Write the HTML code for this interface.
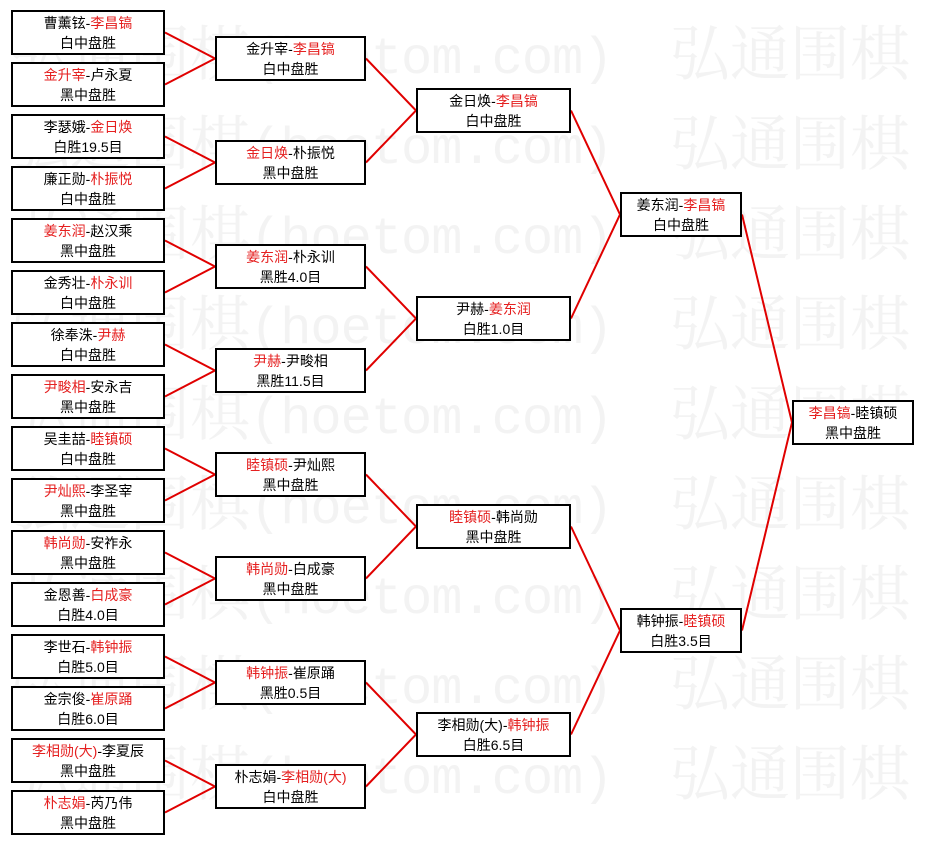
<!DOCTYPE html>
<html><head><meta charset="utf-8"><style>
body{margin:0;width:925px;height:845px;background:#fff;position:relative;overflow:hidden;font-family:"Liberation Sans","Noto Sans CJK SC",sans-serif;}
.wm{position:absolute;color:#f3f3f3;font-size:60px;line-height:60px;white-space:nowrap;font-family:"Liberation Mono","Noto Serif CJK SC",monospace;}
.wm span{position:absolute;top:0}
.wm span.h{font-size:52px;letter-spacing:-1px}
.b{position:absolute;height:40px;border:2px solid #000;background:#fff;text-align:center;font-size:14px;line-height:20px;padding-top:1px;box-sizing:content-box;color:#000;}
.r{color:#e52020}
svg{position:absolute;left:0;top:0}
</style></head><body>
<div class="wm" style="left:0;top:30px;width:925px;height:60px"><span style="right:675px">弘通围棋</span><span class="h" style="left:250px">(hoetom.com)</span><span style="left:670px">弘通围棋</span></div>
<div class="wm" style="left:0;top:120px;width:925px;height:60px"><span style="right:675px">弘通围棋</span><span class="h" style="left:250px">(hoetom.com)</span><span style="left:670px">弘通围棋</span></div>
<div class="wm" style="left:0;top:210px;width:925px;height:60px"><span style="right:675px">弘通围棋</span><span class="h" style="left:250px">(hoetom.com)</span><span style="left:670px">弘通围棋</span></div>
<div class="wm" style="left:0;top:300px;width:925px;height:60px"><span style="right:675px">弘通围棋</span><span class="h" style="left:250px">(hoetom.com)</span><span style="left:670px">弘通围棋</span></div>
<div class="wm" style="left:0;top:390px;width:925px;height:60px"><span style="right:675px">弘通围棋</span><span class="h" style="left:250px">(hoetom.com)</span><span style="left:670px">弘通围棋</span></div>
<div class="wm" style="left:0;top:480px;width:925px;height:60px"><span style="right:675px">弘通围棋</span><span class="h" style="left:250px">(hoetom.com)</span><span style="left:670px">弘通围棋</span></div>
<div class="wm" style="left:0;top:570px;width:925px;height:60px"><span style="right:675px">弘通围棋</span><span class="h" style="left:250px">(hoetom.com)</span><span style="left:670px">弘通围棋</span></div>
<div class="wm" style="left:0;top:660px;width:925px;height:60px"><span style="right:675px">弘通围棋</span><span class="h" style="left:250px">(hoetom.com)</span><span style="left:670px">弘通围棋</span></div>
<div class="wm" style="left:0;top:750px;width:925px;height:60px"><span style="right:675px">弘通围棋</span><span class="h" style="left:250px">(hoetom.com)</span><span style="left:670px">弘通围棋</span></div>
<svg width="925" height="845" fill="none" stroke="#e00000" stroke-width="2">
<polyline points="165,32.5 215,58.5 165,84.5"/>
<polyline points="165,136.5 215,162.5 165,188.5"/>
<polyline points="165,240.5 215,266.5 165,292.5"/>
<polyline points="165,344.5 215,370.5 165,396.5"/>
<polyline points="165,448.5 215,474.5 165,500.5"/>
<polyline points="165,552.5 215,578.5 165,604.5"/>
<polyline points="165,656.5 215,682.5 165,708.5"/>
<polyline points="165,760.5 215,786.5 165,812.5"/>
<polyline points="366,58.5 416,110.5 366,162.5"/>
<polyline points="366,266.5 416,318.5 366,370.5"/>
<polyline points="366,474.5 416,526.5 366,578.5"/>
<polyline points="366,682.5 416,734.5 366,786.5"/>
<polyline points="571,110.5 620,214.5 571,318.5"/>
<polyline points="571,526.5 620,630.5 571,734.5"/>
<polyline points="742,214.5 792,422.5 742,630.5"/>
</svg>
<div class="b" style="left:11px;top:10px;width:150px">曹薰铉-<span class="r">李昌镐</span><br>白中盘胜</div>
<div class="b" style="left:11px;top:62px;width:150px"><span class="r">金升宰</span>-卢永夏<br>黑中盘胜</div>
<div class="b" style="left:11px;top:114px;width:150px">李瑟娥-<span class="r">金日焕</span><br>白胜19.5目</div>
<div class="b" style="left:11px;top:166px;width:150px">廉正勋-<span class="r">朴振悦</span><br>白中盘胜</div>
<div class="b" style="left:11px;top:218px;width:150px"><span class="r">姜东润</span>-赵汉乘<br>黑中盘胜</div>
<div class="b" style="left:11px;top:270px;width:150px">金秀壮-<span class="r">朴永训</span><br>白中盘胜</div>
<div class="b" style="left:11px;top:322px;width:150px">徐奉洙-<span class="r">尹赫</span><br>白中盘胜</div>
<div class="b" style="left:11px;top:374px;width:150px"><span class="r">尹畯相</span>-安永吉<br>黑中盘胜</div>
<div class="b" style="left:11px;top:426px;width:150px">吴圭喆-<span class="r">睦镇硕</span><br>白中盘胜</div>
<div class="b" style="left:11px;top:478px;width:150px"><span class="r">尹灿熙</span>-李圣宰<br>黑中盘胜</div>
<div class="b" style="left:11px;top:530px;width:150px"><span class="r">韩尚勋</span>-安祚永<br>黑中盘胜</div>
<div class="b" style="left:11px;top:582px;width:150px">金恩善-<span class="r">白成豪</span><br>白胜4.0目</div>
<div class="b" style="left:11px;top:634px;width:150px">李世石-<span class="r">韩钟振</span><br>白胜5.0目</div>
<div class="b" style="left:11px;top:686px;width:150px">金宗俊-<span class="r">崔原踊</span><br>白胜6.0目</div>
<div class="b" style="left:11px;top:738px;width:150px"><span class="r">李相勋(大)</span>-李夏辰<br>黑中盘胜</div>
<div class="b" style="left:11px;top:790px;width:150px"><span class="r">朴志娟</span>-芮乃伟<br>黑中盘胜</div>

<div class="b" style="left:215px;top:36px;width:147px">金升宰-<span class="r">李昌镐</span><br>白中盘胜</div>
<div class="b" style="left:215px;top:140px;width:147px"><span class="r">金日焕</span>-朴振悦<br>黑中盘胜</div>
<div class="b" style="left:215px;top:244px;width:147px"><span class="r">姜东润</span>-朴永训<br>黑胜4.0目</div>
<div class="b" style="left:215px;top:348px;width:147px"><span class="r">尹赫</span>-尹畯相<br>黑胜11.5目</div>
<div class="b" style="left:215px;top:452px;width:147px"><span class="r">睦镇硕</span>-尹灿熙<br>黑中盘胜</div>
<div class="b" style="left:215px;top:556px;width:147px"><span class="r">韩尚勋</span>-白成豪<br>黑中盘胜</div>
<div class="b" style="left:215px;top:660px;width:147px"><span class="r">韩钟振</span>-崔原踊<br>黑胜0.5目</div>
<div class="b" style="left:215px;top:764px;width:147px">朴志娟-<span class="r">李相勋(大)</span><br>白中盘胜</div>

<div class="b" style="left:416px;top:88px;width:151px">金日焕-<span class="r">李昌镐</span><br>白中盘胜</div>
<div class="b" style="left:416px;top:296px;width:151px">尹赫-<span class="r">姜东润</span><br>白胜1.0目</div>
<div class="b" style="left:416px;top:504px;width:151px"><span class="r">睦镇硕</span>-韩尚勋<br>黑中盘胜</div>
<div class="b" style="left:416px;top:712px;width:151px">李相勋(大)-<span class="r">韩钟振</span><br>白胜6.5目</div>

<div class="b" style="left:620px;top:192px;width:118px">姜东润-<span class="r">李昌镐</span><br>白中盘胜</div>
<div class="b" style="left:620px;top:608px;width:118px">韩钟振-<span class="r">睦镇硕</span><br>白胜3.5目</div>

<div class="b" style="left:792px;top:400px;width:118px"><span class="r">李昌镐</span>-睦镇硕<br>黑中盘胜</div>
</body></html>
